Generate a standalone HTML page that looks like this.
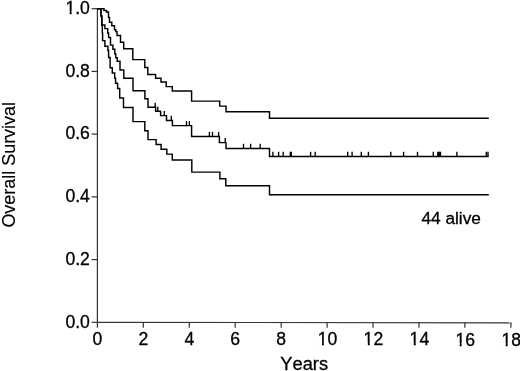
<!DOCTYPE html>
<html><head><meta charset="utf-8"><style>
html,body{margin:0;padding:0;background:#fff;}
body{width:520px;height:371px;overflow:hidden;}
svg{display:block;}
text{font-family:"Liberation Sans",Arial,sans-serif;font-kerning:none;fill:#000;stroke:#000;stroke-width:0.3px;}
</style></head><body>
<svg width="520" height="371" viewBox="0 0 520 371">
<g stroke="#333" stroke-width="1.2" fill="none">
<line x1="97.4" y1="8.1" x2="97.4" y2="322.3"/>
<line x1="97.4" y1="322.3" x2="511.3" y2="322.8"/>
<line x1="91.6" y1="322.3" x2="97.4" y2="322.3"/><line x1="91.6" y1="259.6" x2="97.4" y2="259.6"/><line x1="91.6" y1="196.9" x2="97.4" y2="196.9"/><line x1="91.6" y1="134.1" x2="97.4" y2="134.1"/><line x1="91.6" y1="71.4" x2="97.4" y2="71.4"/><line x1="91.6" y1="8.7" x2="97.4" y2="8.7"/>
<line x1="97.4" y1="322.3" x2="97.4" y2="327.8"/><line x1="143.3" y1="322.3" x2="143.3" y2="327.8"/><line x1="189.3" y1="322.3" x2="189.3" y2="327.8"/><line x1="235.2" y1="322.3" x2="235.2" y2="327.8"/><line x1="281.2" y1="322.3" x2="281.2" y2="327.8"/><line x1="327.1" y1="322.3" x2="327.1" y2="327.8"/><line x1="373.0" y1="322.3" x2="373.0" y2="327.8"/><line x1="419.0" y1="322.3" x2="419.0" y2="327.8"/><line x1="464.9" y1="322.3" x2="464.9" y2="327.8"/><line x1="510.9" y1="322.3" x2="510.9" y2="327.8"/>
</g>
<g stroke="#000" stroke-width="1.45" fill="none" stroke-linejoin="miter" stroke-linecap="butt">
<path d="M97.4 8.7 H104.0 V10.5 H106.5 V12.0 H108.5 V17.5 H109.5 V22.3 H111.8 V25.8 H114.5 V29.7 H115.8 V31.6 H117.0 V35.5 H120.5 V42.3 H123.7 V48.8 H132.8 V59.6 H144.8 V67.5 H147.8 V74.4 H155.6 V78.2 H161.0 V82.0 H166.2 V86.6 H172.3 V90.9 H191.6 V101.1 H219.7 V106.1 H226.0 V111.7 H269.5 V118.3 H488.8"/>
<path d="M97.4 8.7 H101.0 V16.0 H101.8 V24.9 H104.9 V28.6 H107.7 V33.0 H108.6 V37.5 H110.5 V45.1 H112.9 V49.3 H114.8 V54.0 H115.8 V57.8 H117.2 V61.2 H120.0 V69.9 H123.8 V78.3 H133.0 V90.8 H144.9 V98.8 H148.0 V107.3 H155.6 V111.3 H160.6 V115.6 H166.5 V120.4 H172.4 V125.6 H191.6 V136.5 H219.4 V142.6 H226.0 V148.4 H269.5 V156.4 H488.7"/>
<path d="M97.4 8.7 H101.0 V16.0 H101.8 V24.9 H102.3 V33.0 H102.6 V40.6 H104.9 V46.3 H107.9 V50.5 H108.6 V57.4 H110.1 V67.8 H112.3 V72.9 H114.7 V78.2 H115.6 V83.2 H117.6 V88.4 H119.7 V98.0 H123.5 V107.5 H133.0 V121.6 H144.8 V130.8 H148.0 V139.6 H156.1 V144.4 H161.1 V149.3 H166.8 V154.1 H172.3 V160.0 H191.8 V172.1 H219.9 V178.8 H225.8 V185.7 H269.5 V194.7 H488.8"/>
</g>
<g stroke="#000" stroke-width="1.35" fill="none"><line x1="155.2" y1="102.7" x2="155.2" y2="107.3"/><line x1="157.8" y1="106.7" x2="157.8" y2="111.3"/><line x1="164.3" y1="111.0" x2="164.3" y2="115.6"/><line x1="171.3" y1="115.8" x2="171.3" y2="120.4"/><line x1="186.5" y1="121.0" x2="186.5" y2="125.6"/><line x1="189.4" y1="121.0" x2="189.4" y2="125.6"/><line x1="209.4" y1="131.9" x2="209.4" y2="136.5"/><line x1="212.5" y1="131.9" x2="212.5" y2="136.5"/><line x1="218.6" y1="131.9" x2="218.6" y2="136.5"/><line x1="225.2" y1="138.0" x2="225.2" y2="142.6"/><line x1="243.5" y1="143.8" x2="243.5" y2="148.4"/><line x1="250.6" y1="143.8" x2="250.6" y2="148.4"/><line x1="260.2" y1="143.8" x2="260.2" y2="148.4"/><line x1="272.9" y1="151.8" x2="272.9" y2="156.4"/><line x1="278.6" y1="151.8" x2="278.6" y2="156.4"/><line x1="283.2" y1="151.8" x2="283.2" y2="156.4"/><line x1="290.3" y1="151.8" x2="290.3" y2="156.4"/><line x1="291.3" y1="151.8" x2="291.3" y2="156.4"/><line x1="310.6" y1="151.8" x2="310.6" y2="156.4"/><line x1="315.2" y1="151.8" x2="315.2" y2="156.4"/><line x1="347.7" y1="151.8" x2="347.7" y2="156.4"/><line x1="352.1" y1="151.8" x2="352.1" y2="156.4"/><line x1="361.3" y1="151.8" x2="361.3" y2="156.4"/><line x1="368.4" y1="151.8" x2="368.4" y2="156.4"/><line x1="390.8" y1="151.8" x2="390.8" y2="156.4"/><line x1="403.6" y1="151.8" x2="403.6" y2="156.4"/><line x1="417.5" y1="151.8" x2="417.5" y2="156.4"/><line x1="433.3" y1="151.8" x2="433.3" y2="156.4"/><line x1="437.8" y1="151.8" x2="437.8" y2="156.4"/><line x1="438.8" y1="151.8" x2="438.8" y2="156.4"/><line x1="439.8" y1="151.8" x2="439.8" y2="156.4"/><line x1="440.5" y1="151.8" x2="440.5" y2="156.4"/><line x1="456.9" y1="151.8" x2="456.9" y2="156.4"/><line x1="486.3" y1="151.8" x2="486.3" y2="156.4"/><line x1="488.0" y1="151.8" x2="488.0" y2="156.4"/></g>
<g font-size="17.6"><text x="89.9" y="327.5" text-anchor="end">0.0</text><text x="89.9" y="264.8" text-anchor="end">0.2</text><text x="89.9" y="202.1" text-anchor="end">0.4</text><text x="89.9" y="139.3" text-anchor="end">0.6</text><text x="89.9" y="76.6" text-anchor="end">0.8</text><text x="89.9" y="13.9" text-anchor="end">1.0</text></g><g font-size="17.6" style="stroke-width:0.2px"><text x="97.4" y="345.0" text-anchor="middle">0</text><text x="143.3" y="345.1" text-anchor="middle">2</text><text x="189.3" y="345.1" text-anchor="middle">4</text><text x="235.2" y="345.2" text-anchor="middle">6</text><text x="281.2" y="345.2" text-anchor="middle">8</text><text x="327.5" y="345.3" text-anchor="middle">10</text><text x="373.4" y="345.4" text-anchor="middle">12</text><text x="419.4" y="345.4" text-anchor="middle">14</text><text x="465.3" y="345.5" text-anchor="middle">16</text><text x="511.3" y="345.6" text-anchor="middle">18</text></g>
<g fill="#fff" stroke="none"><rect x="65.97" y="11.40" width="3.69" height="4.00"/><rect x="71.61" y="11.40" width="3.55" height="4.00"/><rect x="318.25" y="342.80" width="3.69" height="4.00"/><rect x="323.89" y="342.80" width="3.55" height="4.00"/><rect x="364.15" y="342.90" width="3.69" height="4.00"/><rect x="369.79" y="342.90" width="3.55" height="4.00"/><rect x="410.15" y="342.90" width="3.69" height="4.00"/><rect x="415.79" y="342.90" width="3.55" height="4.00"/><rect x="456.05" y="343.00" width="3.69" height="4.00"/><rect x="461.69" y="343.00" width="3.55" height="4.00"/><rect x="502.05" y="343.10" width="3.69" height="4.00"/><rect x="507.69" y="343.10" width="3.55" height="4.00"/></g>
<text x="304.2" y="369.9" font-size="18.3" text-anchor="middle">Years</text>
<text transform="translate(15.2,164.8) rotate(-90)" font-size="17.95" text-anchor="middle" style="stroke-width:0.15px">Overall Survival</text>
<text x="421.4" y="223.5" font-size="17.3">44 alive</text>
</svg>
</body></html>
